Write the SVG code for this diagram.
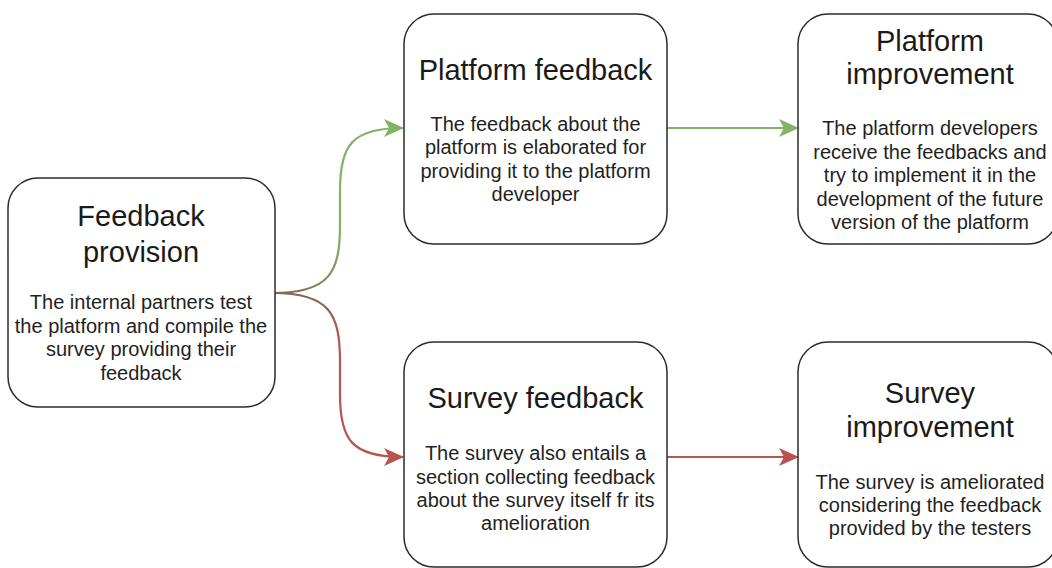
<svg xmlns="http://www.w3.org/2000/svg" width="1052" height="568" viewBox="0 0 1052 568">
  <style>
    .box { fill: #ffffff; stroke: #2b2b2b; stroke-width: 1.5; }
    .title { font-family: "Liberation Sans", Arial, Helvetica, sans-serif; font-size: 29px; fill: #1a1a1a; text-anchor: middle; }
    .body { font-family: "Liberation Sans", Arial, Helvetica, sans-serif; font-size: 20px; fill: #1f1f1f; text-anchor: middle; }
    .edge { fill: none; stroke-width: 2.2; }
  </style>
  <defs>
    <linearGradient id="gUp" gradientUnits="userSpaceOnUse" x1="273" y1="293" x2="345" y2="230">
      <stop offset="0" stop-color="#7a6a55"/>
      <stop offset="1" stop-color="#82b366"/>
    </linearGradient>
    <linearGradient id="gDown" gradientUnits="userSpaceOnUse" x1="273" y1="293" x2="345" y2="356">
      <stop offset="0" stop-color="#7a6a55"/>
      <stop offset="1" stop-color="#b85450"/>
    </linearGradient>
    <marker id="arrowGreen" viewBox="0 0 20 18" refX="19" refY="9" markerWidth="20" markerHeight="18" markerUnits="userSpaceOnUse" orient="auto">
      <path d="M0,0 L20,9 L0,18 L5,9 Z" fill="#82b366"/>
    </marker>
    <marker id="arrowRed" viewBox="0 0 20 18" refX="19" refY="9" markerWidth="20" markerHeight="18" markerUnits="userSpaceOnUse" orient="auto">
      <path d="M0,0 L20,9 L0,18 L5,9 Z" fill="#b85450"/>
    </marker>
  </defs>

  <!-- connectors -->
  <g id="connectors">
    <path class="edge" stroke="url(#gUp)" marker-end="url(#arrowGreen)"
          d="M273,293 C330,293 340,272 340,225 L340,190 C340,145 352,128 403,128"/>
    <path class="edge" stroke="url(#gDown)" marker-end="url(#arrowRed)"
          d="M273,293 C330,293 340,314 340,362 L340,395 C340,440 352,457 403,457"/>
    <path class="edge" stroke="#82b366" marker-end="url(#arrowGreen)" d="M667,128 L798,128"/>
    <path class="edge" stroke="#b85450" marker-end="url(#arrowRed)" d="M667,457 L798,457"/>
  </g>

  <!-- Feedback provision -->
  <g id="feedback-provision">
    <rect class="box" x="8" y="178" width="267" height="229" rx="30" ry="30"/>
    <text class="title" x="141" y="226">Feedback</text>
    <text class="title" x="141" y="262">provision</text>
    <text class="body" x="141" y="309">The internal partners test</text>
    <text class="body" x="141" y="333">the platform and compile the</text>
    <text class="body" x="141" y="356">survey providing their</text>
    <text class="body" x="141" y="379.5">feedback</text>
  </g>

  <!-- Platform feedback -->
  <g id="platform-feedback">
    <rect class="box" x="404" y="14" width="263" height="230" rx="30" ry="30"/>
    <text class="title" x="535.5" y="80">Platform feedback</text>
    <text class="body" x="535.5" y="131">The feedback about the</text>
    <text class="body" x="535.5" y="154">platform is elaborated for</text>
    <text class="body" x="535.5" y="177.5">providing it to the platform</text>
    <text class="body" x="535.5" y="201">developer</text>
  </g>

  <!-- Survey feedback -->
  <g id="survey-feedback">
    <rect class="box" x="404" y="342" width="263" height="225" rx="30" ry="30"/>
    <text class="title" x="535.5" y="408">Survey feedback</text>
    <text class="body" x="535.5" y="460">The survey also entails a</text>
    <text class="body" x="535.5" y="483.5">section collecting feedback</text>
    <text class="body" x="535.5" y="507">about the survey itself fr its</text>
    <text class="body" x="535.5" y="530">amelioration</text>
  </g>

  <!-- Platform improvement -->
  <g id="platform-improvement">
    <rect class="box" x="798" y="14" width="260" height="230" rx="30" ry="30"/>
    <text class="title" x="930" y="51">Platform</text>
    <text class="title" x="930" y="84">improvement</text>
    <text class="body" x="930" y="135">The platform developers</text>
    <text class="body" x="930" y="158.5">receive the feedbacks and</text>
    <text class="body" x="930" y="182">try to implement it in the</text>
    <text class="body" x="930" y="205.5">development of the future</text>
    <text class="body" x="930" y="229">version of the platform</text>
  </g>

  <!-- Survey improvement -->
  <g id="survey-improvement">
    <rect class="box" x="798" y="342" width="260" height="225" rx="30" ry="30"/>
    <text class="title" x="930" y="402.5">Survey</text>
    <text class="title" x="930" y="437">improvement</text>
    <text class="body" x="930" y="489">The survey is ameliorated</text>
    <text class="body" x="930" y="512">considering the feedback</text>
    <text class="body" x="930" y="535">provided by the testers</text>
  </g>
</svg>
